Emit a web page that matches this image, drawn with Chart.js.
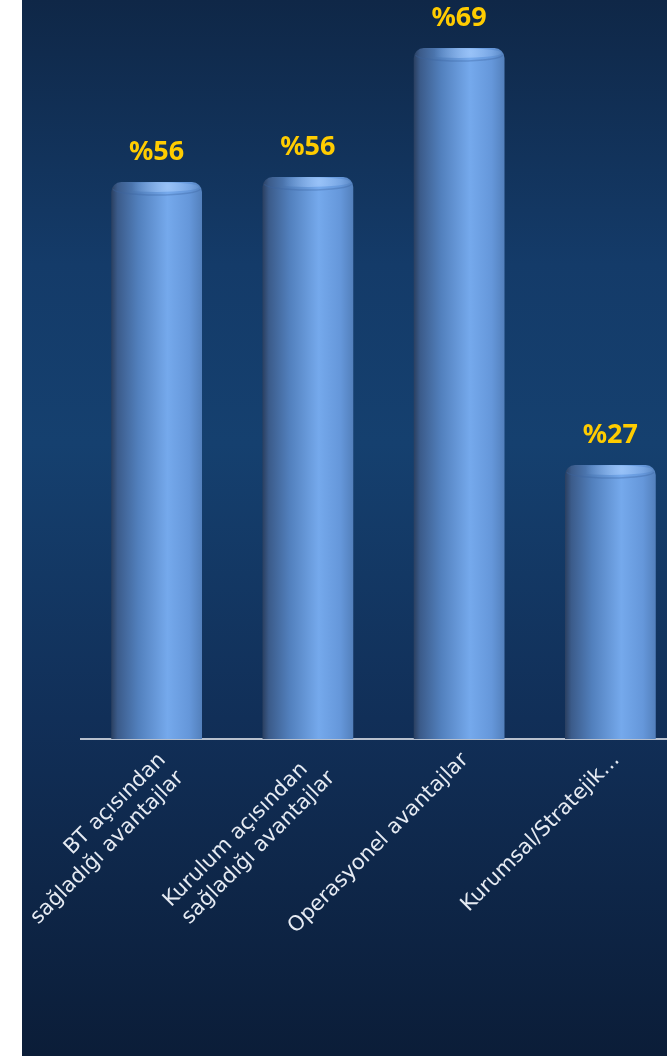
<!DOCTYPE html>
<html>
<head>
<meta charset="utf-8">
<script src="https://cdn.jsdelivr.net/npm/chart.js@4.4.1/dist/chart.umd.min.js"></script>
<style>
  html, body { margin: 0; padding: 0; background: #ffffff; overflow: hidden; }
  #wrap { position: relative; width: 667px; height: 1056px; overflow: hidden; }
  #c { position: absolute; left: 0; top: 0; }
</style>
</head>
<body>
<div id="wrap"><canvas id="c" width="700" height="1056"></canvas></div>
<script>
// ---- data ----
const categories = [
  ["BT açısından", "sağladığı avantajlar"],
  ["Kurulum açısından  ", "sağladığı avantajlar"],
  "Operasyonel avantajlar",
  "Kurumsal/Stratejik…"
];
const values = [55.7, 56.2, 69.1, 27.4];
const labelPrefix = "%";

// ---- styles ----
const W = 700, H = 1056;
const LEFT_STRIP = 22;
const AXIS_Y = 739;
const BAR_PCT = 0.6;

const bgPlugin = {
  id: 'bg',
  beforeDraw(chart) {
    const c = chart.ctx;
    c.save();
    c.fillStyle = '#ffffff';
    c.fillRect(0, 0, W, H);
    const g = c.createLinearGradient(0, 0, 0, H);
    g.addColorStop(0.00, '#0f2747');
    g.addColorStop(0.25, '#143b69');
    g.addColorStop(0.42, '#15406f');
    g.addColorStop(0.68, '#112f58');
    g.addColorStop(1.00, '#0b1d38');
    c.fillStyle = g;
    c.fillRect(LEFT_STRIP, 0, W - LEFT_STRIP, H);
    c.restore();
  }
};

const capPlugin = {
  id: 'caps',
  afterDatasetsDraw(chart) {
    const c = chart.ctx;
    const meta = chart.getDatasetMeta(0);
    c.save();
    meta.data.forEach((bar, i) => {
      const half = bar.width / 2;
      // top cap: lighter rim and highlight
      c.save();
      c.beginPath();
      c.ellipse(bar.x, bar.y + 7, half - 2, 6, 0, 0, Math.PI);
      c.strokeStyle = 'rgba(60,100,160,0.35)';
      c.lineWidth = 1.5;
      c.stroke();
      const g = c.createRadialGradient(bar.x + half * 0.25, bar.y + 5, 1, bar.x + half * 0.25, bar.y + 5, half * 0.8);
      g.addColorStop(0, 'rgba(175,210,255,0.6)');
      g.addColorStop(1, 'rgba(175,210,255,0)');
      c.fillStyle = g;
      c.beginPath();
      c.ellipse(bar.x, bar.y + 5, half - 3, 5, 0, 0, Math.PI * 2);
      c.fill();
      c.restore();
      // value label
      c.fillStyle = '#ffcc00';
      c.font = 'bold 27px "Noto Sans", "Liberation Sans", sans-serif';
      c.textAlign = 'center';
      c.textBaseline = 'middle';
      c.fillText(labelPrefix + Math.round(values[i]), bar.x, bar.y - 30);
    });
    c.restore();
  }
};

function barGradient(ctx) {
  const chart = ctx.chart;
  const xs = chart.scales.x;
  if (!xs || !isFinite(xs.width) || xs.width <= 0) return '#5b8fd0';
  const cx = xs.getPixelForValue(ctx.dataIndex);
  const w = xs.width / categories.length * BAR_PCT;
  const x0 = cx - w / 2, x1 = cx + w / 2;
  const g = chart.ctx.createLinearGradient(x0, 0, x1, 0);
  g.addColorStop(0.00, '#2a3f60');
  g.addColorStop(0.07, '#3b5b8a');
  g.addColorStop(0.30, '#5280bd');
  g.addColorStop(0.62, '#75a9ec');
  g.addColorStop(0.86, '#6597da');
  g.addColorStop(1.00, '#5380bc');
  return g;
}

new Chart(document.getElementById('c'), {
  type: 'bar',
  data: {
    labels: categories,
    datasets: [{
      data: values,
      backgroundColor: barGradient,
      borderWidth: 0,
      borderRadius: { topLeft: 10, topRight: 10, bottomLeft: 0, bottomRight: 0 },
      borderSkipped: false,
      barPercentage: BAR_PCT,
      categoryPercentage: 1.0
    }]
  },
  options: {
    responsive: false,
    animation: false,
    events: [],
    layout: { padding: { left: 81, right: 14, top: 39, bottom: 0 } },
    plugins: { legend: { display: false }, tooltip: { enabled: false }, title: { display: false } },
    scales: {
      y: { display: false, min: 0, max: 70 },
      x: {
        grid: { display: false, drawTicks: false },
        border: { display: true, color: '#b7c0ce', width: 2 },
        ticks: {
          color: '#e6ebf3',
          font: { family: '"DejaVu Sans", Verdana, sans-serif', size: 21 },
          minRotation: 45, maxRotation: 45,
          autoSkip: false,
          padding: 9,
          labelOffset: 6
        },
        afterFit(scale) {
          scale.paddingLeft = 0; scale.paddingRight = 0;
          scale.height = H - AXIS_Y;
        }
      }
    }
  },
  plugins: [bgPlugin, capPlugin]
});
</script>
</body>
</html>
